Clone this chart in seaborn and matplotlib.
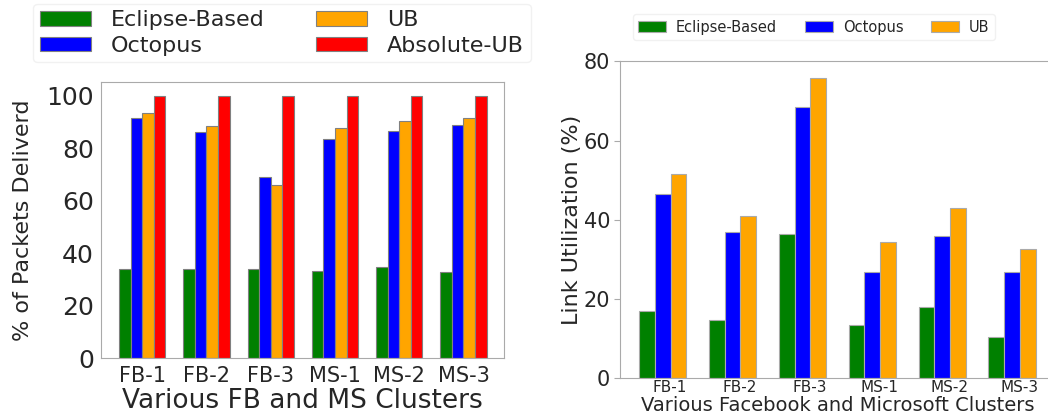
import matplotlib
matplotlib.use('Agg')
import matplotlib.pyplot as plt
import pandas as pd
import seaborn as sns

sns.set_style('white')
plt.rcParams['font.family'] = ['DejaVu Sans']

CLUSTERS = ['FB-1', 'FB-2', 'FB-3', 'MS-1', 'MS-2', 'MS-3']

# left panel: % of packets delivered
delivered_eclipse = [33.9, 33.9, 33.9, 33.3, 34.8, 32.9]
delivered_octopus = [91.5, 86.0, 68.8, 83.4, 86.4, 88.8]
delivered_ub = [93.4, 88.4, 65.9, 87.8, 90.2, 91.3]
delivered_abs_ub = [100, 100, 100, 100, 100, 100]

# right panel: link utilization
util_eclipse = [17.1, 14.8, 36.3, 13.5, 17.9, 10.5]
util_octopus = [46.5, 36.9, 68.4, 26.8, 36.0, 26.8]
util_ub = [51.5, 40.9, 75.7, 34.3, 42.9, 32.6]

SCHEMES_LEFT = ['Eclipse-Based', 'Octopus', 'UB', 'Absolute-UB']
SCHEMES_RIGHT = ['Eclipse-Based', 'Octopus', 'UB']
COLORS = {'Eclipse-Based': 'green', 'Octopus': 'blue', 'UB': 'orange', 'Absolute-UB': 'red'}


def to_long(series_map):
    rows = []
    for scheme, values in series_map.items():
        for cluster, value in zip(CLUSTERS, values):
            rows.append({'cluster': cluster, 'scheme': scheme, 'value': value})
    return pd.DataFrame(rows)


delivered_df = to_long({'Eclipse-Based': delivered_eclipse, 'Octopus': delivered_octopus,
                        'UB': delivered_ub, 'Absolute-UB': delivered_abs_ub})
util_df = to_long({'Eclipse-Based': util_eclipse, 'Octopus': util_octopus, 'UB': util_ub})

fig = plt.figure(figsize=(10.48, 4.2), dpi=100)
ax1 = fig.add_axes([0.0964, 0.1476, 0.3845, 0.656])
ax2 = fig.add_axes([0.5916, 0.0993, 0.415, 0.7548])

sns.barplot(data=delivered_df, x='cluster', y='value', hue='scheme', hue_order=SCHEMES_LEFT,
            palette=COLORS, saturation=1, width=0.72, edgecolor='gray', linewidth=0.8, ax=ax1)
ax1.set_ylim(0, 105)
ax1.set_xlim(-0.64, 5.63)
ax1.set_yticks([0, 20, 40, 60, 80, 100])
ax1.tick_params(axis='y', labelsize=18, length=0, pad=5)
ax1.tick_params(axis='x', labelsize=15, length=0, pad=6)
ax1.set_xlabel('Various FB and MS Clusters', fontsize=19, labelpad=1)
ax1.set_ylabel('% of Packets Deliverd', fontsize=16, labelpad=10)
for spine in ax1.spines.values():
    spine.set_color('#aaaaaa')
    spine.set_linewidth(0.8)
handles, labels = ax1.get_legend_handles_labels()
ax1.legend_.remove()
fig.legend(handles, labels, ncol=2, loc='upper left', bbox_to_anchor=(0.021, 1.018), fontsize=16,
           handlelength=2.3, handleheight=0.65, columnspacing=2.3, handletextpad=0.9,
           labelspacing=0.25, frameon=True, edgecolor='#eeeeee', borderpad=0.3)

sns.barplot(data=util_df, x='cluster', y='value', hue='scheme', hue_order=SCHEMES_RIGHT,
            palette=COLORS, saturation=1, width=0.68, edgecolor='#aaaaaa', linewidth=0.8, ax=ax2)
ax2.set_ylim(0, 80)
ax2.set_xlim(-0.61, 5.61)
ax2.set_yticks([0, 20, 40, 60, 80])
ax2.set_xticks([i + 0.1 for i in range(len(CLUSTERS))], CLUSTERS)
ax2.tick_params(axis='y', labelsize=15, length=4, width=0.8, color='#aaaaaa', pad=3, left=True)
ax2.tick_params(axis='x', labelsize=11, length=0, pad=1)
ax2.set_xlabel('Various Facebook and Microsoft Clusters', fontsize=14, labelpad=1)
ax2.set_ylabel('Link Utilization (%)', fontsize=16, labelpad=1)
for spine in ax2.spines.values():
    spine.set_color('#aaaaaa')
    spine.set_linewidth(0.8)
handles2, labels2 = ax2.get_legend_handles_labels()
ax2.legend_.remove()
fig.legend(handles2, labels2, ncol=3, loc='upper left', bbox_to_anchor=(0.597, 0.983),
           fontsize=10.5, handlelength=1.9, handleheight=0.7, columnspacing=1.9,
           handletextpad=0.7, frameon=True, edgecolor='#eeeeee', borderpad=0.35)

fig.savefig('out.png', dpi=100)
